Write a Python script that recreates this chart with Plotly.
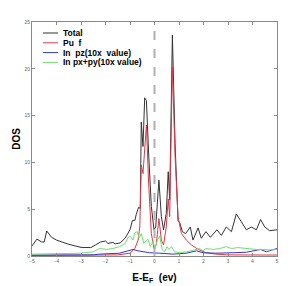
import plotly.graph_objects as go

total_x = [-5, -4.8, -4.6, -4.5, -4.4, -4.2, -4.0, -3.5, -3.0, -2.6, -2.4, -2.2, -2.0, -1.9, -1.7, -1.6, -1.4, -1.2,
           -1.0, -0.9, -0.8, -0.75, -0.65, -0.58, -0.54, -0.47, -0.40, -0.33, -0.24, -0.13, -0.02, 0.05, 0.18, 0.28,
           0.37, 0.48, 0.56, 0.62, 0.73, 0.84, 0.96, 1.03, 1.14, 1.27, 1.46, 1.57, 1.78, 1.91, 2.1, 2.28, 2.55,
           2.73, 2.93, 3.14, 3.34, 3.54, 3.75, 3.95, 4.16, 4.33, 4.5, 4.7, 5.0]
total_y = [1.07, 1.8, 1.5, 1.5, 2.67, 2.0, 1.7, 1.25, 0.92, 0.9, 1.2, 1.5, 1.6, 1.35, 1.45, 1.3, 1.4, 1.9,
           2.8, 3.8, 3.8, 4.4, 5.2, 5.1, 14.3, 11.7, 16.9, 16.6, 11.0, 5.3, 2.8, 3.1, 8.1, 4.2,
           2.8, 4.55, 9.0, 6.0, 23.6, 12.0, 3.8, 3.55, 2.6, 2.4, 3.1, 1.7, 3.0, 1.9, 2.6, 2.0, 2.8,
           2.2, 3.1, 2.6, 4.5, 3.7, 2.8, 3.1, 2.8, 3.9, 3.1, 2.7, 2.8]

puf_x = [-5, -4, -3, -2, -1.5, -1.0, -0.8, -0.67, -0.6, -0.54, -0.47, -0.33, -0.24, -0.13, -0.02, 0.07, 0.18, 0.28,
         0.37, 0.48, 0.56, 0.62, 0.73, 0.84, 0.96, 1.1, 1.3, 1.5, 1.78, 2.1, 2.5, 3.0, 4.0, 5.0]
puf_y = [0.05, 0.05, 0.05, 0.08, 0.12, 0.3, 0.8, 1.7, 3.1, 9.7, 8.8, 14.0, 7.8, 2.4, 0.8, 1.2, 4.0, 1.7,
         1.2, 3.1, 6.1, 4.2, 20.2, 10.6, 4.2, 2.4, 1.7, 1.2, 0.7, 0.35, 0.2, 0.12, 0.1, 0.1]

pz_x = [-5, -4, -3, -2.5, -2.24, -1.42, -1.08, -0.88, -0.67, -0.47, -0.2, 0.21, 0.76, 1.3, 1.71, 1.98, 2.5,
        3.2, 3.75, 4.33, 4.56, 5.0]
pz_y = [0.1, 0.1, 0.1, 0.12, 0.2, 0.3, 0.55, 0.7, 0.55, 0.45, 0.35, 0.3, 0.2, 0.3, 0.55, 0.35, 0.3,
        0.35, 0.4, 0.7, 0.45, 0.8]

pxpy_x = [-5, -4, -3, -2.5, -2.24, -1.97, -1.7, -1.42, -1.2, -1.08, -0.99, -0.88, -0.8, -0.71, -0.63, -0.54, -0.44,
          -0.27, -0.17, -0.06, 0.02, 0.12, 0.21, 0.32, 0.41, 0.51, 0.59, 0.69, 0.82, 1.03, 1.3, 1.71, 1.84, 1.98,
          2.1, 2.39, 2.66, 2.93, 3.14, 3.4, 3.75, 4.16, 4.43, 4.7, 5.0]
pxpy_y = [0.2, 0.22, 0.3, 0.45, 0.8, 0.7, 0.8, 1.0, 1.35, 2.0, 2.1, 1.7, 2.5, 2.6, 1.9, 2.4, 1.35,
          1.8, 1.0, 1.6, 0.8, 1.7, 2.1, 0.65, 0.45, 1.0, 0.7, 1.0, 0.45, 0.35, 0.45, 0.7, 0.8, 0.55,
          0.8, 0.7, 0.8, 1.0, 0.8, 0.9, 0.8, 0.7, 0.7, 0.65, 0.7]

x_ticks = [-5, -4, -3, -2, -1, 0, 1, 2, 3, 4, 5]
y_ticks = [0, 5, 10, 15, 20, 25]
names = ["Total", "Pu  f", "In  pz(10x  value)", "In px+py(10x value)"]
colors = ["#333333", "#e03848", "#3535c8", "#70e070"]

fig = go.Figure()
for xs, ys, nm, c in zip([total_x, puf_x, pz_x, pxpy_x], [total_y, puf_y, pz_y, pxpy_y], names, colors):
    fig.add_trace(go.Scatter(x=xs, y=ys, mode="lines", name=nm, line=dict(color=c, width=1), showlegend=False))

fig.add_vline(x=0, line=dict(color="#b0b0b0", width=2, dash="dash"))

# manual compact legend (paper coordinates)
plot_w, plot_h = 298 - 32 - 21, 286 - 22 - 30
for i, (nm, c) in enumerate(zip(names, colors)):
    ypx = 11 + i * 9.8  # px below top of plot area
    yp = 1 - ypx / plot_h
    fig.add_shape(type="line", xref="paper", yref="paper", x0=11 / plot_w, x1=26 / plot_w, y0=yp, y1=yp,
                  line=dict(color=c, width=1))
    fig.add_annotation(xref="paper", yref="paper", x=29 / plot_w, y=yp, xanchor="left", yanchor="middle",
                       text="<b>" + nm + "</b>", showarrow=False,
                       font=dict(size=8.5, color="black", family="Arial"))

axis_common = dict(showgrid=False, zeroline=False, showline=True, linecolor="#888888", linewidth=1,
                   mirror="ticks", ticks="inside", ticklen=3, tickcolor="#888888", automargin=False,
                   tickfont=dict(size=5, color="#666666", family="Arial"))
fig.update_xaxes(range=[-5, 5], tickvals=x_ticks, **axis_common,
                 title=dict(text="<b>E-E<sub>F</sub>  (ev)</b>", font=dict(size=10, color="black", family="Arial"), standoff=10))
fig.update_yaxes(range=[0, 25], tickvals=y_ticks, **axis_common,
                 title=dict(text="<b>DOS</b>", font=dict(size=10, color="black", family="Arial"), standoff=1))

fig.update_layout(
    width=298, height=286,
    margin=dict(l=32, r=21, t=22, b=30),
    plot_bgcolor="white", paper_bgcolor="white",
    showlegend=False,
    font=dict(family="Arial"),
)

fig.write_html("out.html", config={"displayModeBar": False},
               post_script="document.body.style.margin='0';document.body.style.padding='0';")
